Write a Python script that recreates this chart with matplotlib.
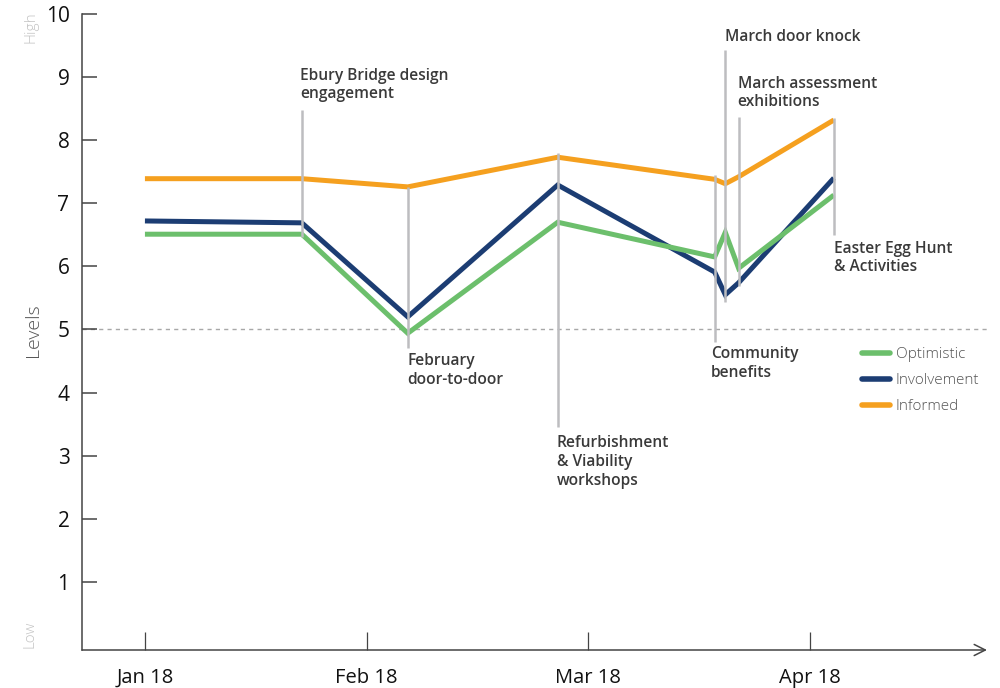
import matplotlib
matplotlib.use('Agg')
import matplotlib.pyplot as plt
from matplotlib.lines import Line2D

# Event positions along the x axis (0 = Jan 18, 1 = Feb 18, ...)
event_x = [0.0, 0.708, 1.186, 1.863, 2.571, 2.619, 2.679, 3.109]

optimistic = [6.51, 6.51, 4.94, 6.70, 6.15, 6.54, 5.97, 7.13]
involvement = [6.72, 6.69, 5.20, 7.29, 5.91, 5.55, 5.74, 7.40]
informed = [7.39, 7.39, 7.26, 7.73, 7.38, 7.31, 7.42, 8.32]

month_ticks = [0, 1, 2, 3]
month_labels = ['Jan 18', 'Feb 18', 'Mar 18', 'Apr 18']

# Event marker lines: x, bottom, top
marker_x = [0.708, 1.186, 1.863, 2.571, 2.619, 2.679, 3.109]
marker_bottom = [6.47, 4.71, 3.45, 4.80, 5.44, 5.69, 6.50]
marker_top = [8.48, 7.26, 7.80, 7.45, 9.43, 8.37, 8.35]

event_labels = [
    'Ebury Bridge design\nengagement',
    'February\ndoor-to-door',
    'Refurbishment\n& Viability\nworkshops',
    'Community\nbenefits',
    'March door knock',
    'March assessment\nexhibitions',
    'Easter Egg Hunt\n& Activities',
]
label_x = [0.699, 1.186, 1.858, 2.553, 2.616, 2.675, 3.108]
label_y = [9.15, 4.62, 3.32, 4.74, 9.77, 9.02, 6.41]

COLORS = {'optimistic': '#6cbf6c', 'involvement': '#1c3d73', 'informed': '#f5a01f'}
GREY = '#bdbdc0'

plt.rcParams['font.family'] = ['Open Sans', 'DejaVu Sans']

fig = plt.figure(figsize=(10, 6.88), dpi=100)
ax = fig.add_axes([0.082, 1 - 650 / 688, 0.905, 636 / 688])
ax.set_xlim(-0.284, 3.80)
ax.set_ylim(-0.08, 10)

# Reference line at level 5
ax.axhline(5, color='#a8a8a8', linestyle=(0, (3, 3)), linewidth=1.0, zorder=1)

for key, values in [('informed', informed), ('involvement', involvement), ('optimistic', optimistic)]:
    ax.plot(event_x, values, color=COLORS[key], linewidth=3.6,
            solid_joinstyle='miter', solid_capstyle='butt', zorder=3)

ax.vlines(marker_x, marker_bottom, marker_top, color=GREY, linewidth=1.8, zorder=4)

for x, y, text in zip(label_x, label_y, event_labels):
    ax.text(x, y, text, ha='left', va='top', fontsize=11.2, fontweight='semibold',
            color='#3a3a3a', linespacing=1.22, zorder=5)

# Axes styling
for side in ['top', 'right', 'bottom']:
    ax.spines[side].set_visible(False)
ax.spines['left'].set_color('#444444')
ax.spines['left'].set_linewidth(1.1)

ax.annotate('', xy=(1.0, 0), xytext=(0, 0), xycoords='axes fraction',
            arrowprops=dict(arrowstyle='->,head_length=0.8,head_width=0.4',
                            color='#444444', linewidth=1.1, shrinkA=0, shrinkB=0))

ax.set_yticks(range(1, 11))
ax.tick_params(axis='y', direction='in', length=11, width=1.1, color='#444444',
               pad=9, labelsize=15, labelcolor='#111111')
ax.set_xticks(month_ticks)
ax.set_xticklabels(month_labels)
ax.tick_params(axis='x', direction='in', length=13, width=0.9, color='#444444',
               pad=13, labelsize=14.5, labelcolor='#111111')

fig.text(0.033, 1 - 330 / 688, 'Levels', rotation=90, ha='center', va='center',
         fontsize=14, color='#555555', fontweight='light')
fig.text(0.031, 1 - 27 / 688, 'High', rotation=90, ha='center', va='center',
         fontsize=11, color='#c4c4c4', fontweight='light')
fig.text(0.030, 1 - 634 / 688, 'Low', rotation=90, ha='center', va='center',
         fontsize=11, color='#c4c4c4', fontweight='light')

handles = [
    Line2D([], [], color=COLORS['optimistic'], linewidth=4, solid_capstyle='round', label='Optimistic'),
    Line2D([], [], color=COLORS['involvement'], linewidth=4, solid_capstyle='round', label='Involvement'),
    Line2D([], [], color=COLORS['informed'], linewidth=4, solid_capstyle='round', label='Informed'),
]
leg = ax.legend(handles=handles, loc='upper left', bbox_to_anchor=(0.862, 0.476),
                frameon=False, fontsize=11, handlelength=1.8, handletextpad=0.4,
                labelspacing=0.72, borderpad=0, borderaxespad=0)
for t in leg.get_texts():
    t.set_color('#555555')
    t.set_fontweight('light')

fig.savefig('out.png', dpi=100)
